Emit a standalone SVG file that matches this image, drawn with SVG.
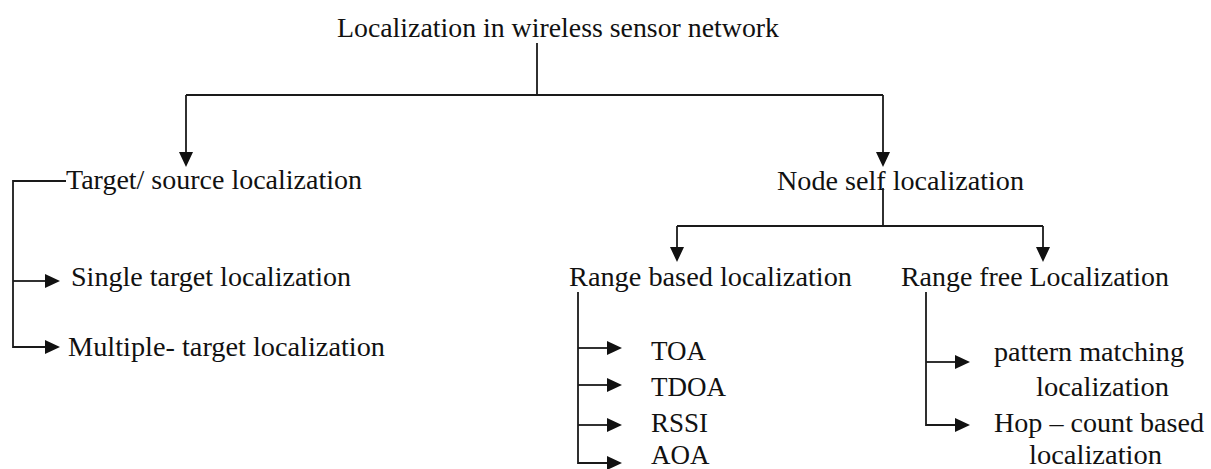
<svg xmlns="http://www.w3.org/2000/svg" width="1211" height="469" viewBox="0 0 1211 469">
<style>
text{font-family:'Liberation Serif','Times New Roman',Times,serif;font-size:27px;fill:#111}
.c{fill:none;stroke:#1a1a1a;stroke-width:1.8}
</style>
<defs>
<marker id="ah" markerUnits="userSpaceOnUse" markerWidth="16" markerHeight="15" refX="0" refY="7" orient="auto">
<path d="M0,0 L15,7 L0,14 Z" fill="#111"/>
</marker>
</defs>
<g id="connectors">
<path class="c" d="M537 43 V95"/>
<path class="c" d="M186 95 H883"/>
<path class="c" d="M186 95 V152" marker-end="url(#ah)"/>
<path class="c" d="M883 95 V152" marker-end="url(#ah)"/>
<path class="c" d="M66 181 H13 V347 H45" marker-end="url(#ah)"/>
<path class="c" d="M13 281 H45" marker-end="url(#ah)"/>
<path class="c" d="M883 188 V226"/>
<path class="c" d="M677 226 H1043"/>
<path class="c" d="M677 226 V247" marker-end="url(#ah)"/>
<path class="c" d="M1043 226 V247" marker-end="url(#ah)"/>
<path class="c" d="M578 292 V463 H607" marker-end="url(#ah)"/>
<path class="c" d="M578 348 H607" marker-end="url(#ah)"/>
<path class="c" d="M578 385 H607" marker-end="url(#ah)"/>
<path class="c" d="M578 425 H607" marker-end="url(#ah)"/>
<path class="c" d="M926 292 V425 H955" marker-end="url(#ah)"/>
<path class="c" d="M926 362 H955" marker-end="url(#ah)"/>
</g>
<g id="root"><text x="337" y="37" textLength="442" lengthAdjust="spacingAndGlyphs">Localization in wireless sensor network</text></g>
<g id="target"><text x="66" y="189" textLength="296" lengthAdjust="spacingAndGlyphs">Target/ source localization</text></g>
<g id="nodeself"><text x="777" y="190" textLength="247" lengthAdjust="spacingAndGlyphs">Node self localization</text></g>
<g id="single"><text x="71" y="286" textLength="280" lengthAdjust="spacingAndGlyphs">Single target localization</text></g>
<g id="multiple"><text x="68" y="356" textLength="317" lengthAdjust="spacingAndGlyphs">Multiple- target localization</text></g>
<g id="rangebased"><text x="569" y="286" textLength="283" lengthAdjust="spacingAndGlyphs">Range based localization</text></g>
<g id="rangefree"><text x="901" y="286" textLength="268" lengthAdjust="spacingAndGlyphs">Range free Localization</text></g>
<g id="toa"><text x="651" y="360">TOA</text></g>
<g id="tdoa"><text x="651" y="396">TDOA</text></g>
<g id="rssi"><text x="651" y="432">RSSI</text></g>
<g id="aoa"><text x="651" y="464">AOA</text></g>
<g id="pattern"><text x="994" y="361" textLength="190" lengthAdjust="spacingAndGlyphs">pattern matching</text><text x="1036" y="396" textLength="133" lengthAdjust="spacingAndGlyphs">localization</text></g>
<g id="hop"><text x="994" y="432" textLength="210" lengthAdjust="spacingAndGlyphs">Hop – count based</text><text x="1029" y="464" textLength="133" lengthAdjust="spacingAndGlyphs">localization</text></g>
</svg>
